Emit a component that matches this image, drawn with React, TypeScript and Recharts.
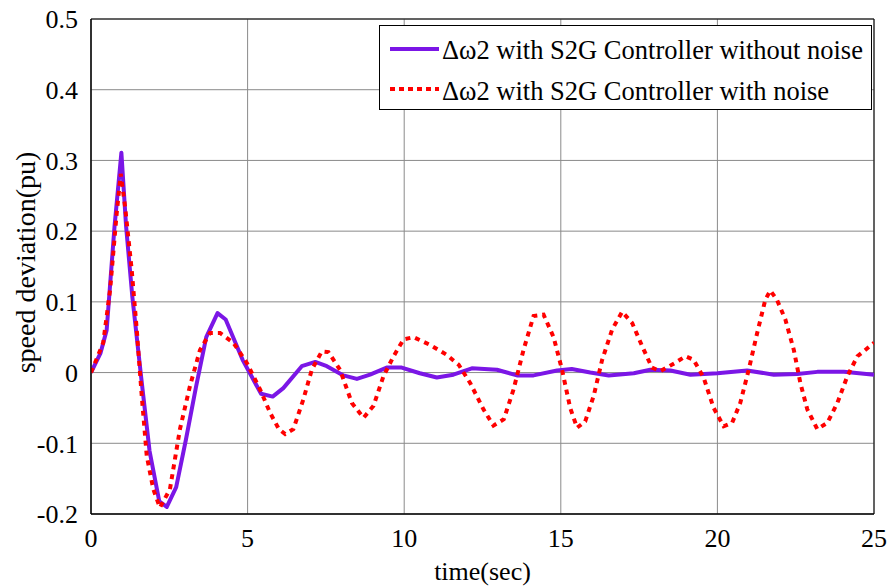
import React from "react";
import { LineChart, Line, XAxis, YAxis, CartesianGrid, ReferenceArea, Legend, Label } from "recharts";

const purpleT = [0, 0.3, 0.5, 0.75, 0.97, 1.12, 1.32, 1.6, 1.87, 2.18, 2.42, 2.72, 3.03, 3.35, 3.68, 4.04, 4.3, 4.84, 5.43, 5.8, 6.14, 6.73, 7.16, 7.53, 8.06, 8.49, 8.91, 9.44, 9.92, 10.5, 11.04, 11.57, 12.16, 12.96, 13.6, 14.13, 14.88, 15.35, 15.94, 16.53, 17.33, 17.86, 18.5, 19.14, 20.0, 20.95, 21.8, 22.55, 23.19, 24.04, 25];
const purpleV = [0, 0.027, 0.06, 0.206, 0.311, 0.207, 0.107, -0.006, -0.111, -0.182, -0.19, -0.162, -0.095, -0.021, 0.05, 0.084, 0.075, 0.018, -0.03, -0.034, -0.022, 0.009, 0.015, 0.009, -0.004, -0.009, -0.003, 0.007, 0.007, -0.001, -0.007, -0.003, 0.006, 0.004, -0.004, -0.004, 0.003, 0.005, 0, -0.004, -0.001, 0.004, 0.003, -0.003, -0.001, 0.003, -0.003, -0.002, 0.001, 0.001, -0.003];

const redT = [0, 0.39, 0.61, 0.82, 0.95, 1.09, 1.3, 1.46, 1.62, 1.78, 1.99, 2.2, 2.52, 2.84, 3.16, 3.48, 3.8, 4.12, 4.55, 4.97, 5.4, 5.72, 6.0, 6.2, 6.46, 6.78, 7.05, 7.37, 7.58, 7.95, 8.33, 8.7, 9.02, 9.34, 9.66, 9.98, 10.3, 10.83, 11.36, 11.74, 12.11, 12.53, 12.85, 13.18, 13.49, 13.81, 14.13, 14.45, 14.77, 15.04, 15.3, 15.52, 15.78, 16.05, 16.32, 16.64, 16.96, 17.28, 17.6, 17.91, 18.18, 18.66, 18.98, 19.24, 19.56, 19.88, 20.2, 20.47, 20.73, 21.0, 21.27, 21.53, 21.69, 21.9, 22.17, 22.44, 22.65, 22.87, 23.19, 23.51, 23.83, 24.15, 24.47, 25];
const redV = [0, 0.042, 0.117, 0.225, 0.281, 0.234, 0.145, 0.061, -0.033, -0.118, -0.165, -0.191, -0.165, -0.08, -0.019, 0.032, 0.056, 0.056, 0.042, 0.014, -0.024, -0.057, -0.08, -0.087, -0.08, -0.038, 0.004, 0.03, 0.029, 0.004, -0.043, -0.064, -0.047, -0.005, 0.023, 0.047, 0.05, 0.039, 0.025, 0.011, -0.015, -0.052, -0.075, -0.066, -0.024, 0.032, 0.08, 0.082, 0.05, 0.004, -0.05, -0.078, -0.069, -0.033, 0.018, 0.061, 0.086, 0.07, 0.037, 0.007, 0.002, 0.014, 0.023, 0.018, -0.007, -0.05, -0.076, -0.071, -0.043, 0.004, 0.056, 0.103, 0.116, 0.103, 0.075, 0.032, -0.015, -0.052, -0.08, -0.071, -0.043, -0.005, 0.023, 0.042];

const xTicks = [0, 5, 10, 15, 20, 25];
const yTicks = [-0.2, -0.1, 0, 0.1, 0.2, 0.3, 0.4, 0.5];
const seriesNames = ["\u0394\u03c92 with S2G Controller without noise", "\u0394\u03c92 with S2G Controller with noise"];

const purpleData = purpleT.map((t, i) => ({ t, v: purpleV[i] }));
const redData = redT.map((t, i) => ({ t, v: redV[i] }));

const FONT = "Liberation Serif";
const PURPLE = "#7B16E6";
const RED = "#FF0000";
const tickStyle = { fill: "#000", fontSize: 26, fontFamily: FONT };
const labelStyle = { fill: "#000", fontSize: 26, fontFamily: FONT };

const LegendBox = () => (
  <div
    style={{
      border: "1px solid #000",
      background: "#fff",
      width: 493,
      height: 85,
      boxSizing: "border-box",
      fontFamily: FONT,
      fontSize: 26.5,
      color: "#000",
      position: "relative",
      textAlign: "left",
    }}
  >
    <svg width={60} height={84} style={{ position: "absolute", left: 0, top: 0 }}>
      <line x1={10} x2={59} y1={23} y2={23} stroke={PURPLE} strokeWidth={4} />
      <line x1={10} x2={59} y1={63} y2={63} stroke={RED} strokeWidth={4} strokeDasharray="5 4" />
    </svg>
    <div style={{ position: "absolute", left: 62, top: 9, whiteSpace: "nowrap", lineHeight: "30px", fontFamily: FONT }}>{seriesNames[0]}</div>
    <div style={{ position: "absolute", left: 62, top: 50, whiteSpace: "nowrap", lineHeight: "30px", fontFamily: FONT }}>{seriesNames[1]}</div>
  </div>
);

export default function App() {
  return (
    <div style={{ position: "absolute", left: 0, top: 0, width: 887, height: 588, background: "#fff", fontFamily: FONT }}>
      <LineChart width={887} height={588} margin={{ top: 19, right: 13, bottom: 0, left: 0 }} style={{ fontFamily: FONT }}>
        <CartesianGrid stroke="#8a8a8a" strokeWidth={1} />
        <XAxis
          dataKey="t"
          type="number"
          domain={[0, 25]}
          ticks={xTicks}
          allowDataOverflow
          height={74}
          tickLine={false}
          axisLine={{ stroke: "#000" }}
          tickMargin={9}
          tick={tickStyle}
        >
          <Label value="time(sec)" position="insideBottom" offset={8} style={labelStyle} />
        </XAxis>
        <YAxis
          dataKey="v"
          type="number"
          domain={[-0.2, 0.5]}
          ticks={yTicks}
          allowDataOverflow
          width={91}
          tickLine={false}
          axisLine={{ stroke: "#000" }}
          tickMargin={7}
          tickFormatter={(v: number) => (Math.abs(v) < 1e-9 ? "0" : v.toFixed(1))}
          tick={tickStyle}
        >
          <Label value="speed deviation(pu)" angle={-90} position="center" dx={-20} dy={-4} style={{ ...labelStyle, fontSize: 28, textAnchor: "middle" }} />
        </YAxis>
        <ReferenceArea x1={0} x2={25} y1={-0.2} y2={0.5} fill="none" stroke="#000" strokeWidth={1} ifOverflow="visible" />
        <Line data={purpleData} dataKey="v" name={seriesNames[0]} type="linear" stroke={PURPLE} strokeWidth={4} dot={false} isAnimationActive={false} strokeLinejoin="round" />
        <Line data={redData} dataKey="v" name={seriesNames[1]} type="linear" stroke={RED} strokeWidth={4} strokeDasharray="5 5" dot={false} isAnimationActive={false} />
        <Legend
          layout="vertical"
          align="center"
          verticalAlign="middle"
          content={() => <LegendBox />}
          wrapperStyle={{ position: "absolute", left: 379, top: 25, width: 493, height: 85 }}
        />
      </LineChart>
    </div>
  );
}
